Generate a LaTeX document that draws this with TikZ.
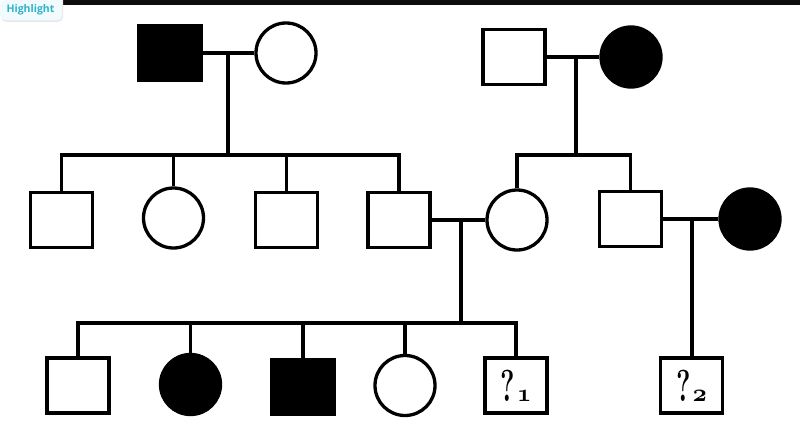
\documentclass[tikz,border=0pt]{standalone}
\usepackage{fontspec}
\newfontfamily\tagfont{Open Sans}
\usetikzlibrary{shapes.geometric}
\definecolor{tagfill}{HTML}{F1FBFD}
\definecolor{tagtext}{HTML}{2FB3C8}
\tikzset{
  ln/.style={line width=3.3pt, line join=miter},
  male/.style={rectangle, draw, line width=3.3pt, fill=white, inner sep=0pt, minimum width=62pt, minimum height=55pt},
  female/.style={circle, draw, line width=3.3pt, fill=white, inner sep=0pt, minimum size=60pt},
  aff/.style={fill=black},
  qtext/.style={font=\bfseries}
}
\newcommand{\qmark}[1]{\scalebox{0.85}[1.4]{\fontsize{32}{32}\selectfont\bfseries ?}\kern2pt{\fontsize{34}{34}\usefont{OML}{cmm}{b}{it}#1}}
\begin{document}
\begin{tikzpicture}[x=1pt,y=-1pt]
\useasboundingbox (0,0) rectangle (800,423);
% top bar and tag
\fill[black!95] (63,0) rectangle (800,5);
\fill[black!8] (1,0) -- (63,0) -- (63,15) [rounded corners=5pt] -- (63,22) -- (1,22) -- cycle;
\fill[tagfill] (0,0) -- (62,0) -- (62,14) [rounded corners=5pt] -- (62,20) -- (0,20) -- cycle;
\node[text=tagtext, font=\tagfont\bfseries\fontsize{10.5}{11}\selectfont, inner sep=0pt] (tag) at (30.5,9.5) {Highlight};

% generation I
\node[male, aff] (a1) at (170,53) {};
\node[female] (a2) at (286,53) {};
\node[male] (a3) at (514,57) {};
\node[female, aff] (a4) at (631,57) {};

% generation II
\node[male] (b1) at (61.5,220) {};
\node[female] (b2) at (173.5,218) {};
\node[male] (b3) at (286.5,220) {};
\node[male] (b4) at (399,220) {};
\node[female] (b5) at (517,220) {};
\node[male] (b6) at (630.5,219) {};
\node[female, aff] (b7) at (750,219) {};

% generation III
\node[male] (c1) at (78,385.5) {};
\node[female, aff] (c2) at (190.5,384.5) {};
\node[male, aff] (c3) at (303,387) {};
\node[female] (c4) at (405,385.5) {};
\node[male, qtext] (c5) at (516,385.5) {\qmark{1}};
\node[male, qtext] (c6) at (691.5,385.5) {\qmark{2}};

% marriage points and sibship points
\coordinate (m1) at (228,53);
\coordinate (s1) at (228,155);
\coordinate (m2) at (576,57);
\coordinate (s2) at (576,155);
\coordinate (m3) at (461,220);
\coordinate (s3) at (461,323);
\coordinate (m4) at (692,219);

% generation I connections
\draw[ln] (a1.east) -- (a2.west);
\draw[ln] (m1) -- (s1);
\draw[ln] (a3.east) -- (a4.west);
\draw[ln] (m2) -- (s2);

\draw[ln] (b1.north) |- (s1);
\draw[ln] (b2.north) |- (s1);
\draw[ln] (b3.north) |- (s1);
\draw[ln] (b4.north) |- (s1);
\draw[ln] (b5.north) |- (s2);
\draw[ln] (b6.north) |- (s2);

% generation II connections
\draw[ln] (b4.east) -- (b5.west);
\draw[ln] (m3) -- (s3);
\draw[ln] (b6.east) -- (b7.west);
\draw[ln] (m4) -- (c6.north -| m4);

\draw[ln] (c1.north) |- (s3);
\draw[ln] (c2.north) |- (s3);
\draw[ln] (c3.north) |- (s3);
\draw[ln] (c4.north) |- (s3);
\draw[ln] (c5.north) |- (s3);
\end{tikzpicture}
\end{document}
